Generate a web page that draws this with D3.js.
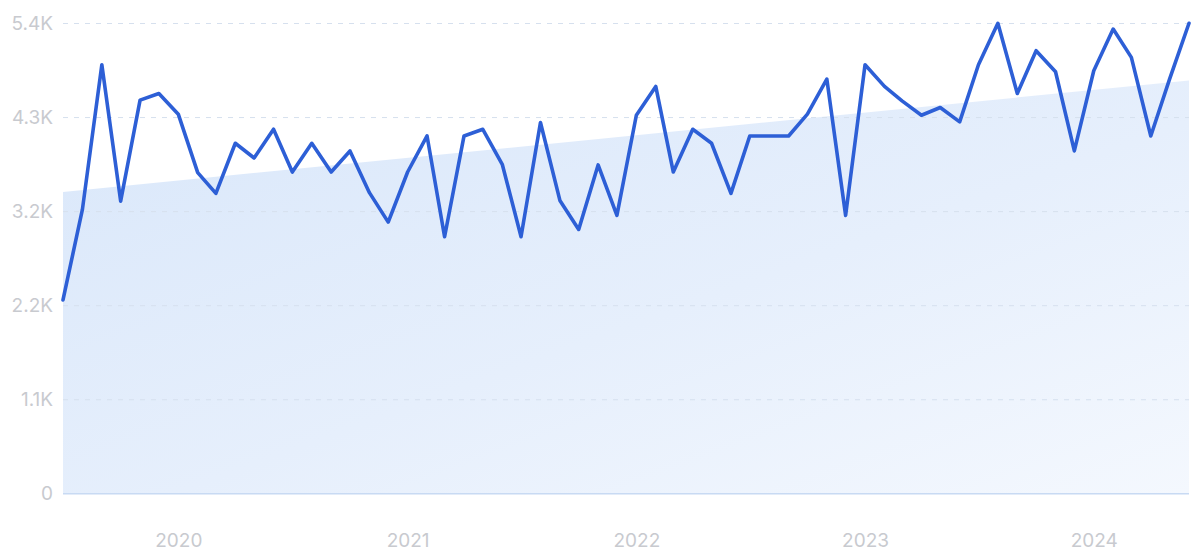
<!DOCTYPE html>
<html>
<head>
<meta charset="utf-8">
<script src="https://cdn.jsdelivr.net/npm/d3@7"></script>
<style>
  html, body { margin: 0; padding: 0; background: #fff; }
  svg { display: block; }
  text { font-family: Inter, "Open Sans", sans-serif; }
</style>
</head>
<body>
<svg id="chart" width="1200" height="558"></svg>
<script>
// ---- data ----
const startMonth = "2019-07";
const values = [
  2220, 3260, 4920, 3355, 4514, 4591, 4353, 3682, 3444, 4019,
  3850, 4180, 3689, 4019, 3689, 3931, 3452, 3114, 3689, 4103,
  2946, 4103, 4180, 3778, 2946, 4257, 3363, 3030, 3770, 3191,
  4341, 4672, 3689, 4180, 4019, 3444, 4103, 4103, 4103, 4353,
  4756, 3191, 4920, 4672, 4506, 4341, 4430, 4265, 4920, 5397,
  4591, 5082, 4840, 3931, 4852, 5331, 5005, 4103, 4756, 5397
];
const trendValues = [3460, 4740];
const yTickValues = [0, 1080, 2160, 3240, 4320, 5400];
const yTickLabels = ["0", "1.1K", "2.2K", "3.2K", "4.3K", "5.4K"];
const xTickYears = [2020, 2021, 2022, 2023, 2024];

// ---- build ----
const parse = d3.timeParse("%Y-%m");
const start = parse(startMonth);
const data = values.map((v, i) => ({ date: d3.timeMonth.offset(start, i), value: v }));

const svg = d3.select("#chart");
const x = d3.scaleTime()
  .domain([data[0].date, data[data.length - 1].date])
  .range([63, 1189]);
const y = d3.scaleLinear().domain([0, 5400]).range([493.3, 23]);

const defs = svg.append("defs");
const grad = defs.append("linearGradient")
  .attr("id", "trendGrad")
  .attr("x1", "0%").attr("y1", "0%").attr("x2", "100%").attr("y2", "100%");
grad.append("stop").attr("offset", "0%").attr("stop-color", "#d9e7fa");
grad.append("stop").attr("offset", "55%").attr("stop-color", "#e6effc");
grad.append("stop").attr("offset", "100%").attr("stop-color", "#f4f8fe");

// trend area
const trendData = [
  { date: data[0].date, value: trendValues[0] },
  { date: data[data.length - 1].date, value: trendValues[1] }
];
svg.append("path")
  .datum(trendData)
  .attr("fill", "url(#trendGrad)")
  .attr("d", d3.area().x(d => x(d.date)).y0(y(0)).y1(d => y(d.value)));

// grid lines
const yAxis = d3.axisLeft(y)
  .tickValues(yTickValues)
  .tickFormat((d, i) => yTickLabels[i])
  .tickSize(-(1189 - 63))
  .tickPadding(10);
const gy = svg.append("g").attr("transform", "translate(63,0)").call(yAxis);
gy.select(".domain").remove();
gy.selectAll(".tick line")
  .attr("stroke", d => d === 0 ? "#c8daf3" : "#d6e0ee")
  .attr("stroke-width", d => d === 0 ? 1.5 : 1)
  .attr("stroke-dasharray", d => d === 0 ? null : "5,6");
gy.selectAll(".tick text")
  .attr("fill", "#c8cacf")
  .attr("font-size", 19)
  .attr("x", -10)
  .attr("dy", "0.35em");

// x axis labels
const xAxis = d3.axisBottom(x)
  .tickValues(xTickYears.map(yr => new Date(yr, 0, 1)))
  .tickFormat(d3.timeFormat("%Y"))
  .tickSize(0)
  .tickPadding(40);
const gx = svg.append("g").attr("transform", "translate(0,493.3)").call(xAxis);
gx.select(".domain").remove();
gx.selectAll(".tick text")
  .attr("fill", "#c8cacf")
  .attr("font-size", 19);

// main line
svg.append("path")
  .datum(data)
  .attr("fill", "none")
  .attr("stroke", "#2d5fd6")
  .attr("stroke-width", 3.6)
  .attr("stroke-linejoin", "round")
  .attr("stroke-linecap", "round")
  .attr("d", d3.line().x(d => x(d.date)).y(d => y(d.value)));
</script>
</body>
</html>
